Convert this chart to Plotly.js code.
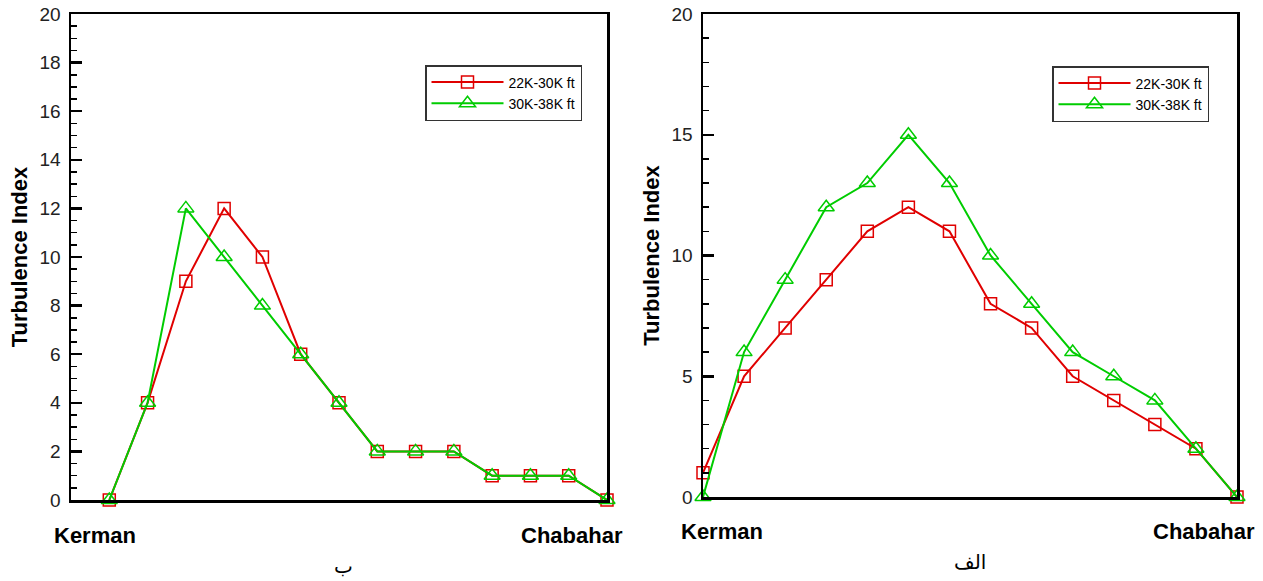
<!DOCTYPE html>
<html>
<head>
<meta charset="utf-8">
<script src="https://cdn.plot.ly/plotly-3.0.1.min.js"></script>
<style>html,body{margin:0;padding:0;background:#fff;}#chart{width:1263px;height:581px;}</style>
</head>
<body>
<div id="chart"></div>
<script>
// Station index along the route Kerman -> Chabahar
const stationsB = [0,1,2,3,4,5,6,7,8,9,10,11,12,13];
const lowB  = [0,4,9,12,10,6,4,2,2,2,1,1,1,0];   // 22K-30K ft, panel ب
const highB = [0,4,12,10,8,6,4,2,2,2,1,1,1,0];   // 30K-38K ft, panel ب

const stationsA = [0,1,2,3,4,5,6,7,8,9,10,11,12,13];
const lowA  = [1,5,7,9,11,12,11,8,7,5,4,3,2,0];  // 22K-30K ft, panel الف
const highA = [0,6,9,12,13,15,13,10,8,6,5,4,2,0]; // 30K-38K ft, panel الف

const seriesNames = ['22K-30K ft', '30K-38K ft'];
const startLabel = 'Kerman';
const endLabel = 'Chabahar';
const yTitle = 'Turbulence Index';
const panelLabels = ['ب', 'الف'];

const RED = '#e00000', GREEN = '#00cc00';
const W = 1263, H = 581;
const px = v => v / W;
const py = v => 1 - v / H;

function line(x, y, name, color, symbol, xa, ya, legend, size) {
  return {
    x: x, y: y, name: name, type: 'scatter', mode: 'lines+markers',
    xaxis: xa, yaxis: ya, legend: legend, cliponaxis: false,
    line: {color: color, width: 2},
    marker: {symbol: symbol, size: size, color: color, line: {color: color, width: 1.5}}
  };
}

const data = [
  line(stationsB, lowB, seriesNames[0], RED, 'square-open', 'x', 'y', 'legend', 12),
  line(stationsB, highB, seriesNames[1], GREEN, 'triangle-up-open', 'x', 'y', 'legend', 14),
  line(stationsA, lowA, seriesNames[0], RED, 'square-open', 'x2', 'y2', 'legend2', 12),
  line(stationsA, highA, seriesNames[1], GREEN, 'triangle-up-open', 'x2', 'y2', 'legend2', 14)
];

const tickFont = {family: 'Liberation Sans, Arial, sans-serif', size: 19, color: '#222'};
const titleFont = {family: 'Liberation Sans, Arial, sans-serif', size: 22, color: '#000', weight: 'bold'};

function yaxis(domain, dtick, minorDtick, anchor) {
  return {
    domain: domain, range: [0, 20], anchor: anchor,
    showline: true, linecolor: '#000', linewidth: 2.5, mirror: true,
    showgrid: false, zeroline: false,
    ticks: 'inside', ticklen: 11, tickwidth: 2.5, tickcolor: '#000',
    dtick: dtick, tick0: 0, tickfont: tickFont, ticklabelstandoff: 4,
    minor: {dtick: minorDtick, ticks: 'inside', ticklen: 6, tickwidth: 1.5, tickcolor: '#000', showgrid: false},
    title: {text: yTitle, font: titleFont, standoff: 6}
  };
}
function xaxis(domain, range, anchor) {
  return {
    domain: domain, range: range, anchor: anchor,
    showline: true, linecolor: '#000', linewidth: 2.5, mirror: true,
    showgrid: false, zeroline: false, showticklabels: false, ticks: ''
  };
}

const legendBase = {
  bgcolor: '#fff', bordercolor: '#333', borderwidth: 1.5,
  font: {family: 'Liberation Sans, Arial, sans-serif', size: 14, color: '#000'},
  xanchor: 'left', yanchor: 'top', tracegroupgap: 0, itemwidth: 72
};

const labFont = {family: 'Liberation Sans, Arial, sans-serif', size: 22, color: '#000', weight: 'bold'};
const arFont = {family: 'DejaVu Sans, Noto Sans, sans-serif', size: 20, color: '#000'};

function ann(text, x, y, font) {
  return {text: text, xref: 'paper', yref: 'paper', x: px(x), y: py(y),
          xanchor: 'center', yanchor: 'middle', showarrow: false, font: font};
}

const layout = {
  width: W, height: H,
  margin: {l: 0, r: 0, t: 0, b: 0},
  paper_bgcolor: '#fff', plot_bgcolor: '#fff',
  showlegend: true,
  xaxis: xaxis([px(71), px(607)], [-1, 13], 'y'),
  yaxis: yaxis([1 - 500 / H, 1 - 14 / H], 2, 0.5, 'x'),
  xaxis2: xaxis([px(703), px(1237)], [0, 13], 'y2'),
  yaxis2: yaxis([1 - 497 / H, 1 - 14 / H], 5, 1, 'x2'),
  legend: Object.assign({}, legendBase, {x: px(425), y: py(65)}),
  legend2: Object.assign({}, legendBase, {x: px(1052), y: py(66)}),
  annotations: [
    ann(startLabel, 95, 535, labFont),
    ann(endLabel, 572, 535, labFont),
    ann(startLabel, 722, 531, labFont),
    ann(endLabel, 1204, 531, labFont),
    ann(panelLabels[0], 343, 566, arFont),
    ann(panelLabels[1], 970, 562, arFont)
  ]
};

Plotly.newPlot('chart', data, layout, {displayModeBar: false, staticPlot: true});
</script>
</body>
</html>
